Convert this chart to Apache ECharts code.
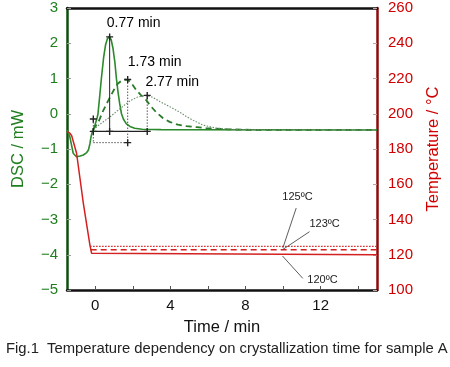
<!DOCTYPE html>
<html><head><meta charset="utf-8">
<script src="https://cdn.jsdelivr.net/npm/echarts@6/dist/echarts.min.js"></script>
<style>html,body{margin:0;padding:0;background:#fff}#c{width:450px;height:367px}</style>
</head><body><div id="c"></div>
<script>
// ---- data ----
const xTickValues = [0, 2, 4, 6, 8, 10, 12, 14];
const xLabelValues = [0, 4, 8, 12];
const dscRange = [-5, 3];
const tempRange = [100, 260];

// DSC curves [time(min), DSC(mW)]
const dscPrefix = [[-1.5,-0.46],[-1.35,-0.65],[-1.17,-1.12],[-1.0,-1.22],[-0.8,-1.2],[-0.63,-1.17],[-0.45,-1.1],[-0.36,-1.03],[-0.28,-0.85],[-0.22,-0.65],[-0.13,-0.47],[-0.1,-0.45]];
const dsc120 = [[-0.1,-0.45],[0.0,-0.3],[0.1,-0.12],[0.15,0.0],[0.25,0.55],[0.33,1.0],[0.45,1.6],[0.55,1.95],[0.65,2.13],[0.76,2.18],[0.85,2.1],[0.95,1.85],[1.05,1.45],[1.13,1.0],[1.22,0.6],[1.3,0.3],[1.4,0.0],[1.5,-0.15],[1.65,-0.28],[1.85,-0.36],[2.1,-0.41],[2.5,-0.44],[3.5,-0.45],[15,-0.46]];
const dsc123 = [[-0.1,-0.45],[0.2,-0.2],[0.42,0.08],[0.7,0.38],[1.0,0.68],[1.2,0.85],[1.4,0.94],[1.6,0.97],[1.75,0.96],[1.95,0.85],[2.19,0.67],[2.45,0.52],[2.67,0.42],[2.95,0.22],[3.25,0.04],[3.6,-0.12],[3.96,-0.23],[4.4,-0.31],[4.85,-0.35],[5.4,-0.38],[5.9,-0.41],[7,-0.44],[8.5,-0.46],[15,-0.46]];
const dsc125 = [[-0.1,-0.45],[0.2,-0.32],[0.5,-0.2],[0.77,-0.1],[1.1,0.05],[1.57,0.25],[1.9,0.38],[2.28,0.48],[2.72,0.52],[3.05,0.47],[3.43,0.35],[3.9,0.22],[4.49,0.05],[4.85,-0.08],[5.2,-0.18],[5.73,-0.32],[6.45,-0.41],[7.5,-0.45],[15,-0.46]];

// Temperature curves [time(min), temperature(°C)]
const temp120 = [[-1.5,190],[-1.35,189],[-1.25,187.5],[-0.99,177.6],[-0.63,149.2],[-0.28,125.5],[-0.19,120.8],[-0.12,120],[15,120]];
const temp123 = [[-0.24,122.8],[15,122.8]];
const temp125 = [[-0.27,124.7],[15,124.7]];

// peak annotations
const peakTimes = [0.77, 1.73, 2.77];
const peakValues = [2.18, 0.97, 0.52];
const peakTexts = ['0.77 min', '1.73 min', '2.77 min'];
const onsetTime = -0.1;
const baseA = -0.5;   // solid reference level
const baseB = -0.82;  // dotted reference level
const onsetTop = -0.15;

// temperature labels
const tempTexts = ['125ºC', '123ºC', '120ºC'];
const tempLabelAt = [[10.77,153.3],[12.21,138],[12.1,106.2]];
const tempLeaders = [
  [[10.7,146.5],[9.99,123.9]],
  [[11.41,133.1],[9.99,123.0]],
  [[9.97,119.3],[11.05,106.6]]
];

// ---- chart ----
const FONT = "'Liberation Sans', Arial, sans-serif";
const GREEN = '#2c8a2c', GREEN_T = '#1f7f1f', RED = '#d42020', RED_T = '#d10000';
const chart = echarts.init(document.getElementById('c'), null, {renderer: 'canvas'});
const plus = 'path://M4,0h2v4h4v2h-4v4h-2v-4h-4v-2h4z';

function seg(pts, type, color, width, yIdx) {
  return {type: 'line', data: pts, yAxisIndex: yIdx || 0, symbol: 'none', silent: true,
    lineStyle: {color: color, width: width, type: type}, z: 5};
}

const series = [
  {type: 'line', data: dscPrefix, symbol: 'none', lineStyle: {color: GREEN, width: 1.6}},
  {type: 'line', data: dsc120, symbol: 'none', lineStyle: {color: GREEN, width: 1.6}},
  {type: 'line', data: dsc123, symbol: 'none', lineStyle: {color: '#2a7a2a', width: 1.8, type: [6, 4]}},
  {type: 'line', data: dsc125, symbol: 'none', lineStyle: {color: '#6a8a6a', width: 1.1, type: [1.5, 1.5]}},
  {type: 'line', data: temp120, yAxisIndex: 1, symbol: 'none', lineStyle: {color: RED, width: 1.5}},
  {type: 'line', data: temp123, yAxisIndex: 1, symbol: 'none', lineStyle: {color: RED, width: 1.6, type: [6, 4]}},
  {type: 'line', data: temp125, yAxisIndex: 1, symbol: 'none', lineStyle: {color: RED, width: 1.2, type: [1.5, 1.5]}},
  // annotation lines
  seg([[peakTimes[0], peakValues[0]], [peakTimes[0], baseA]], 'solid', '#222', 1),
  seg([[onsetTime, baseA], [peakTimes[2], baseA]], 'solid', '#222', 1.2),
  seg([[peakTimes[1], peakValues[1]], [peakTimes[1], baseB]], [1.5, 1.5], '#555', 1),
  seg([[peakTimes[2], peakValues[2]], [peakTimes[2], baseA]], [1.5, 1.5], '#555', 1),
  seg([[onsetTime, onsetTop], [onsetTime, baseB]], [1.5, 1.5], '#555', 1),
  seg([[onsetTime, baseB], [peakTimes[1], baseB]], [1.5, 1.5], '#555', 1),
  {type: 'scatter', symbol: plus, symbolSize: 7, itemStyle: {color: '#222', opacity: 1}, z: 6, silent: true,
    data: [[onsetTime, baseA], [onsetTime, onsetTop], [peakTimes[1], baseB], [peakTimes[2], baseA], [peakTimes[0], baseA]]
      .concat(peakTimes.map((t, i) => [t, peakValues[i]]))},
  // peak labels
  {type: 'scatter', symbolSize: 1, itemStyle: {color: 'rgba(0,0,0,0)', opacity: 1}, silent: true, z: 7,
    data: peakTimes.map((t, i) => ({value: [t, peakValues[i]],
      label: {show: true, formatter: peakTexts[i], position: 'top', distance: 0,
        offset: [[24, -6], [27, -9.5], [25, -6]][i], fontSize: 14, fontFamily: FONT,
        color: '#000', textBorderWidth: 0}}))},
  // temperature leaders
  ...tempLeaders.map(p => seg(p, 'solid', '#333', 0.8, 1)),
  {type: 'scatter', yAxisIndex: 1, symbolSize: 1, itemStyle: {color: 'rgba(0,0,0,0)', opacity: 1}, silent: true, z: 7,
    data: tempLabelAt.map((p, i) => ({value: p,
      label: {show: true, formatter: tempTexts[i], position: 'top', distance: 0, offset: [0, 7],
        fontSize: 11, fontFamily: FONT, color: '#222', textBorderWidth: 0}}))}
];

chart.setOption({
  animation: false,
  backgroundColor: '#fff',
  grid: {left: 67, right: 73, top: 8, bottom: 77},
  xAxis: [{
    type: 'value', min: -1.5, max: 15, position: 'bottom',
    name: 'Time / min', nameLocation: 'middle', nameGap: 29,
    nameTextStyle: {fontSize: 16.5, fontFamily: FONT, color: '#111'},
    axisLine: {onZero: false, lineStyle: {color: '#111', width: 2.5}},
    axisTick: {inside: true, length: 4, customValues: xTickValues, lineStyle: {color: '#555'}},
    axisLabel: {customValues: xLabelValues, fontSize: 15, fontFamily: FONT, color: '#111', margin: 8},
    splitLine: {show: false}
  }, {
    type: 'value', min: -1.5, max: 15, position: 'top',
    axisLine: {show: true, onZero: false, lineStyle: {color: '#111', width: 2.5}},
    axisTick: {show: false}, axisLabel: {show: false}, splitLine: {show: false}
  }],
  yAxis: [{
    type: 'value', min: dscRange[0], max: dscRange[1], interval: 1, position: 'left',
    name: 'DSC / mW', nameLocation: 'middle', nameGap: 40,
    nameTextStyle: {fontSize: 16.5, fontFamily: FONT, color: GREEN_T},
    axisLine: {show: true, onZero: false, lineStyle: {color: '#0d4f0d', width: 2.5}},
    axisTick: {show: true, inside: true, length: 4, lineStyle: {color: '#999'}},
    axisLabel: {fontSize: 15, fontFamily: FONT, color: GREEN_T, margin: 9,
      formatter: v => v < 0 ? '\u2212' + Math.abs(v) : String(v)},
    splitLine: {show: false}
  }, {
    type: 'value', min: tempRange[0], max: tempRange[1], interval: 20, position: 'right',
    name: 'Temperature / °C', nameLocation: 'middle', nameGap: 48, nameRotate: 90,
    nameTextStyle: {fontSize: 16.5, fontFamily: FONT, color: RED_T},
    axisLine: {show: true, onZero: false, lineStyle: {color: '#8b0a0a', width: 2.5}},
    axisTick: {show: true, inside: true, length: 4, lineStyle: {color: '#c9a0a0'}},
    axisLabel: {fontSize: 15, fontFamily: FONT, color: RED_T, margin: 11},
    splitLine: {show: false}
  }],
  graphic: [{
    type: 'text', left: 6, top: 341,
    style: {text: 'Fig.1  Temperature dependency on crystallization time for sample A',
      font: '14.8px ' + FONT, fill: '#222'}
  }],
  series: series
});
</script></body></html>
